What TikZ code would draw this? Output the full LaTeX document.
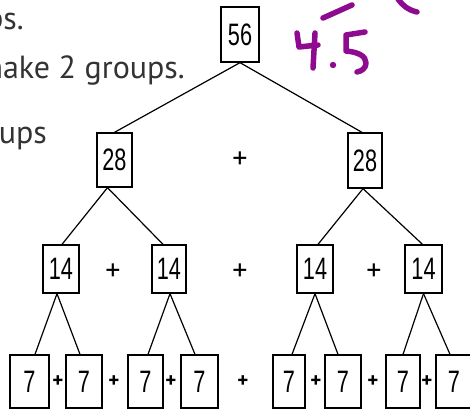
\documentclass[tikz,border=0pt]{standalone}
\usepackage{fontspec}
\setmainfont{PT Sans}
\newfontfamily\handfont[FakeStretch=0.7]{Liberation Sans}
\definecolor{ink}{HTML}{8E0A8E}
\definecolor{txt}{HTML}{333333}
\begin{document}
\begin{tikzpicture}[x=1pt,y=-1pt,
  numbox/.style={draw, line width=1.3pt, inner sep=0pt, font=\handfont\fontsize{31}{31}\selectfont},
  plus/.style={font=\fontsize{30}{30}\selectfont, inner sep=0pt},
  smallplus/.style={font=\bfseries\fontsize{21}{21}\selectfont, inner sep=0pt},
  link/.style={line width=1.2pt},
  pen/.style={draw=ink, line width=5.5pt, line cap=round, line join=round},
  prose/.style={font=\fontsize{32}{32}\selectfont, text=txt, inner sep=0pt}]
\useasboundingbox (0,0) rectangle (470,414);

% prose (cropped at the left edge)
\node[prose, anchor=base east] (t1) at (24,30) {ps.};
\node[prose, anchor=base east] (t2) at (185,79) {make 2 groups.};
\node[prose, anchor=base east] (t3) at (47,143) {ups};

% level 1
\node[numbox, minimum width=38pt, minimum height=55pt] (n56) at (240,34.5) {56};
% level 2
\node[numbox, minimum width=35pt, minimum height=54pt] (a1) at (114.5,160) {28};
\node[numbox, minimum width=34pt, minimum height=55pt] (a2) at (365,160.5) {28};
\node[plus] (p21) at (240,160) {+};
% level 3
\node[numbox, minimum width=36pt, minimum height=48pt] (b1) at (61,269) {14};
\node[numbox, minimum width=34pt, minimum height=48pt] (b2) at (169,269) {14};
\node[numbox, minimum width=36pt, minimum height=48pt] (b3) at (315,269) {14};
\node[numbox, minimum width=37pt, minimum height=48pt] (b4) at (423.5,269) {14};
\node[plus] (p31) at (113,272) {+};
\node[plus] (p32) at (240,272) {+};
\node[plus] (p33) at (374,272) {+};
% level 4
\node[numbox, minimum width=39pt, minimum height=53pt] (c1) at (29.5,381.5) {7};
\node[numbox, minimum width=36pt, minimum height=53pt] (c2) at (84,381.5) {7};
\node[numbox, minimum width=35pt, minimum height=53pt] (c3) at (145.5,381.5) {7};
\node[numbox, minimum width=37pt, minimum height=53pt] (c4) at (199.5,381.5) {7};
\node[numbox, minimum width=32pt, minimum height=53pt] (c5) at (289,381.5) {7};
\node[numbox, minimum width=36pt, minimum height=53pt] (c6) at (343,381.5) {7};
\node[numbox, minimum width=34pt, minimum height=53pt] (c7) at (403,381.5) {7};
\node[numbox, minimum width=36pt, minimum height=53pt] (c8) at (454,381.5) {7};
\node[smallplus] (q1) at (58,382) {+};
\node[smallplus] (q2) at (114,382) {+};
\node[smallplus] (q3) at (171,382) {+};
\node[smallplus] (q4) at (243,382) {+};
\node[smallplus] (q5) at (316,382) {+};
\node[smallplus] (q6) at (373,382) {+};
\node[smallplus] (q7) at (427,382) {+};

% connectors
\draw[link] (n56.south) -- (a1.north);
\draw[link] (n56.south) -- ([xshift=-3pt]a2.north);
\draw[link] ([xshift=-7pt]a1.south) -- ([xshift=1pt]b1.north);
\draw[link] ([xshift=-7pt]a1.south) -- ([xshift=-6pt]b2.north);
\draw[link] ([xshift=-2pt]a2.south) -- ([xshift=3pt]b3.north);
\draw[link] ([xshift=-2pt]a2.south) -- ([xshift=-1pt]b4.north);
\draw[link] ([xshift=-4pt]b1.south) -- ([xshift=5.5pt]c1.north);
\draw[link] ([xshift=-4pt]b1.south) -- ([xshift=-4pt]c2.north);
\draw[link] ([xshift=1pt]b2.south) -- ([xshift=2.5pt]c3.north);
\draw[link] ([xshift=1pt]b2.south) -- ([xshift=-4.5pt]c4.north);
\draw[link] (b3.south) -- ([xshift=3pt]c5.north);
\draw[link] (b3.south) -- ([xshift=-5pt]c6.north);
\draw[link] (b4.south) -- (c7.north);
\draw[link] (b4.south) -- ([xshift=-4pt]c8.north);

% purple handwriting
\draw[pen] (323,18) -- (352,5);
\draw[pen] (398,-1) .. controls (402,5) and (408,10) .. (417,12);
\draw[pen] (297,33) -- (299,47) -- (318,45);
\draw[pen] (315,33) -- (313,68);
\fill[ink] (333,65) circle (3.2pt);
\draw[pen] (365,32) -- (346,35) -- (346,51) .. controls (358,52) and (366,56) .. (366,63) .. controls (366,68) and (362,71) .. (357,72);
\end{tikzpicture}
\end{document}
